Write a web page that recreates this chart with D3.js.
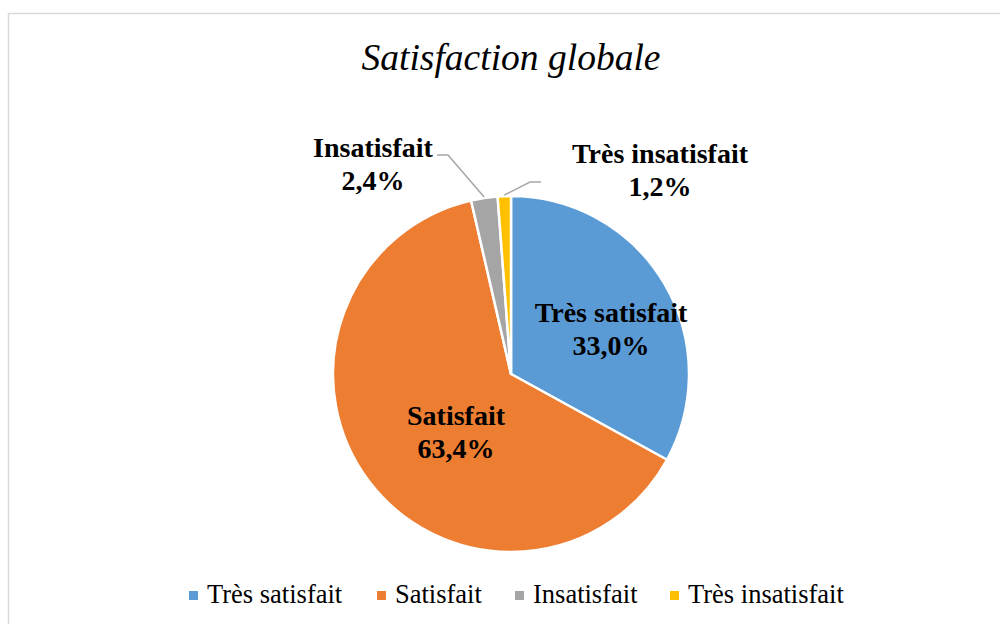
<!DOCTYPE html>
<html><head><meta charset="utf-8">
<script src="https://cdn.jsdelivr.net/npm/d3@7"></script>
<style>body{margin:0;background:#fff}</style>
</head><body>
<svg id="c" width="1000" height="624"></svg>
<script>
const categories = ["Très satisfait", "Satisfait", "Insatisfait", "Très insatisfait"];
const values = [33.0, 63.4, 2.4, 1.2];
const valueLabels = ["33,0%", "63,4%", "2,4%", "1,2%"];
const colors = ["#5B9BD5", "#ED7D31", "#A5A5A5", "#FFC000"];
const title = "Satisfaction globale";

const FONT = "'Times New Roman', 'Liberation Serif', 'DejaVu Serif', serif";
const svg = d3.select("#c").attr("font-family", FONT);
svg.append("rect").attr("x", 8.5).attr("y", 13.5).attr("width", 1000).attr("height", 700)
  .attr("fill", "#fff").attr("stroke", "#d9d9d9").attr("stroke-width", 1.5);

svg.append("text").attr("x", 511).attr("y", 70).attr("text-anchor", "middle")
  .attr("font-size", 37.5).attr("font-style", "italic").attr("fill", "#000").text(title);

const cx = 511, cy = 374, r = 178;
const pie = d3.pie().sort(null).value(d => d)(values);
const arc = d3.arc().innerRadius(0).outerRadius(r);
const g = svg.append("g").attr("transform", `translate(${cx},${cy})`);
g.selectAll("path").data(pie).join("path")
  .attr("d", arc).attr("fill", (d, i) => colors[i])
  .attr("stroke", "#fff").attr("stroke-width", 2.5).attr("stroke-linejoin", "round");

const labelPos = [[100, -52], [-55, 51], [-138, -217], [149, -211]];
const lbl = svg.append("g").attr("font-weight", "bold").attr("font-size", 28).attr("text-anchor", "middle");
pie.forEach((d, i) => {
  const [dx, dy] = labelPos[i];
  const t = lbl.append("text").attr("x", cx + dx).attr("y", cy + dy).attr("fill", "#000");
  t.append("tspan").attr("x", cx + dx).attr("dy", 0).text(categories[i]);
  t.append("tspan").attr("x", cx + dx).attr("dy", 32.5).text(valueLabels[i]);
});

function edge(d) { const a = (d.startAngle + d.endAngle) / 2; return [cx + Math.sin(a) * (r + 1), cy - Math.cos(a) * (r + 1)]; }
const e2 = edge(pie[2]), e3 = edge(pie[3]);
svg.append("polyline").attr("points", `${e2[0]},${e2[1]} ${cx - 63},${cy - 219} ${cx - 74},${cy - 219}`)
  .attr("fill", "none").attr("stroke", "#a6a6a6").attr("stroke-width", 1.5);
svg.append("polyline").attr("points", `${e3[0]},${e3[1]} ${cx + 19},${cy - 192} ${cx + 30},${cy - 192}`)
  .attr("fill", "none").attr("stroke", "#a6a6a6").attr("stroke-width", 1.5);

const legX = [189, 377, 515, 670];
const leg = svg.append("g").attr("font-size", 26.5);
categories.forEach((c, i) => {
  leg.append("rect").attr("x", legX[i]).attr("y", 591).attr("width", 9).attr("height", 9).attr("fill", colors[i]);
  leg.append("text").attr("x", legX[i] + 18).attr("y", 603).attr("fill", "#000").text(c);
});
</script>
</body></html>
